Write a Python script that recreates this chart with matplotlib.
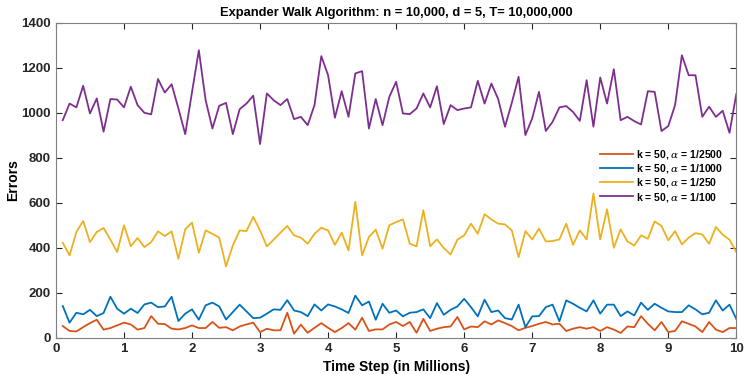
import numpy as np
import matplotlib
matplotlib.use("Agg")
import matplotlib.pyplot as plt
from matplotlib import font_manager

# time steps, in millions
steps = [round(0.1 * i, 1) for i in range(1, 101)]

err_2500 = [52, 30, 28, 47, 65, 80, 36, 43, 55, 67,
            59, 36, 43, 96, 62, 61, 40, 37, 43, 55,
            43, 43, 70, 44, 47, 33, 50, 59, 67, 25,
            40, 33, 33, 111, 18, 58, 22, 44, 65, 44,
            25, 43, 65, 36, 89, 30, 37, 37, 59, 70,
            52, 70, 22, 84, 30, 40, 47, 50, 92, 37,
            50, 47, 73, 59, 77, 65, 52, 33, 44, 52,
            62, 70, 59, 62, 30, 40, 47, 40, 47, 30,
            47, 36, 21, 50, 47, 96, 62, 33, 70, 25,
            30, 73, 62, 50, 25, 70, 36, 25, 43, 43]

err_1000 = [141, 67, 111, 104, 124, 96, 110, 182, 129, 107,
            129, 110, 148, 156, 136, 139, 182, 74, 107, 126,
            80, 144, 156, 139, 81, 114, 147, 117, 87, 89,
            107, 126, 124, 167, 121, 114, 96, 148, 121, 148,
            139, 126, 110, 187, 144, 161, 80, 151, 111, 121,
            95, 111, 114, 126, 87, 154, 102, 124, 139, 173,
            136, 95, 169, 114, 121, 87, 81, 147, 47, 95,
            96, 136, 147, 73, 166, 151, 133, 117, 166, 107,
            147, 147, 96, 117, 99, 156, 124, 151, 133, 117,
            114, 114, 144, 126, 104, 111, 166, 121, 147, 84]

err_250 = [422, 366, 470, 519, 425, 470, 488, 436, 381, 500,
           407, 443, 403, 425, 473, 452, 473, 351, 482, 512,
           378, 477, 462, 445, 317, 410, 477, 474, 537, 477,
           406, 436, 467, 497, 455, 445, 418, 462, 489, 477,
           413, 467, 388, 604, 366, 448, 480, 396, 500, 514,
           526, 418, 406, 567, 407, 437, 399, 370, 436, 455,
           507, 462, 549, 526, 507, 504, 477, 358, 474, 437,
           485, 428, 430, 437, 507, 413, 477, 437, 641, 437,
           571, 400, 482, 428, 410, 455, 440, 517, 497, 433,
           474, 415, 445, 465, 459, 418, 492, 458, 436, 381]

err_100 = [967, 1041, 1024, 1120, 997, 1064, 916, 1061, 1059, 1024,
           1116, 1034, 1000, 993, 1150, 1090, 1127, 1019, 905, 1092,
           1278, 1056, 930, 1031, 1044, 905, 1016, 1041, 1076, 861,
           1086, 1056, 1034, 1061, 972, 982, 945, 1034, 1252, 1167,
           978, 1096, 982, 1175, 1185, 930, 1061, 945, 1071, 1138,
           997, 994, 1019, 1086, 1024, 1118, 950, 1034, 1012, 1019,
           1024, 1142, 1041, 1130, 1061, 938, 1044, 1160, 901, 975,
           1093, 919, 960, 1024, 1030, 1004, 964, 1145, 938, 1157,
           1041, 1194, 967, 982, 963, 948, 1096, 1093, 919, 941,
           1034, 1256, 1167, 1167, 982, 1027, 982, 1009, 911, 1083]

labels = [r"k = 50, $\alpha$ = 1/2500", r"k = 50, $\alpha$ = 1/1000",
          r"k = 50, $\alpha$ = 1/250", r"k = 50, $\alpha$ = 1/100"]
colors = ["#D95319", "#0072BD", "#EDB120", "#7E2F8E"]

names = {f.name for f in font_manager.fontManager.ttflist}
fam = "Liberation Sans Narrow" if "Liberation Sans Narrow" in names else "Liberation Sans"
plt.rcParams["font.family"] = [fam, "DejaVu Sans"]
plt.rcParams["mathtext.fontset"] = "custom"
plt.rcParams["mathtext.it"] = "DejaVu Serif:italic"

fig = plt.figure(figsize=(7.46, 3.74), dpi=100)
ax = fig.add_axes([0.075, 0.097, 0.912, 0.842])

for ys, lab, c in zip([err_2500, err_1000, err_250, err_100], labels, colors):
    ax.plot(steps, ys, color=c, lw=1.3, label=lab)

ax.set_xlim(0, 10)
ax.set_ylim(0, 1400)
ax.set_xticks(range(0, 11))
ax.set_yticks(range(0, 1401, 200))
ax.tick_params(direction="in", top=True, right=True, length=4, width=0.8,
               colors="#262626", labelsize=9.5)
for lbl in ax.get_xticklabels() + ax.get_yticklabels():
    lbl.set_fontweight("bold")
for s in ax.spines.values():
    s.set_color("#808080")
    s.set_linewidth(0.8)

ax.set_title("Expander Walk Algorithm: n = 10,000, d = 5, T= 10,000,000",
             fontsize=9.3, fontweight="bold", pad=5)
ax.set_xlabel("Time Step (in Millions)", fontsize=10, fontweight="bold", labelpad=4)
ax.set_ylabel("Errors", fontsize=10, fontweight="bold", labelpad=1)

leg = ax.legend(loc="upper right", bbox_to_anchor=(0.995, 0.633), frameon=False,
                prop={"size": 7.5, "weight": "bold"}, handlelength=3.2,
                handletextpad=0.3, labelspacing=0.12)

fig.savefig("out.png", dpi=100)
